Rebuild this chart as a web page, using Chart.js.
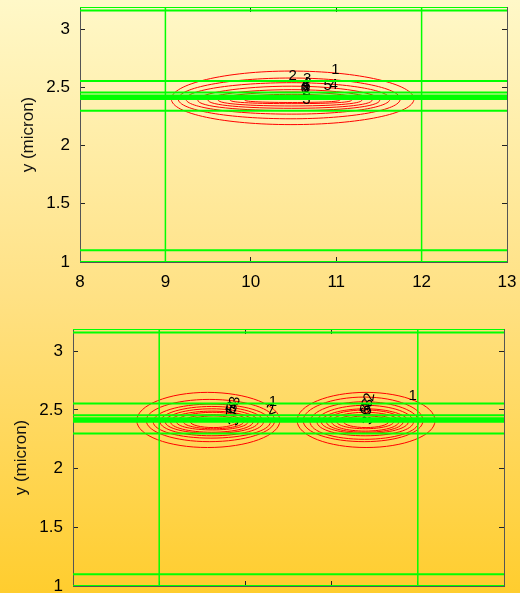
<!DOCTYPE html>
<html>
<head>
<meta charset="utf-8">
<script src="https://cdn.jsdelivr.net/npm/chart.js@4"></script>
<style>
  html, body { margin: 0; padding: 0; width: 520px; height: 593px; overflow: hidden; }
  body {
    position: relative;
    background: linear-gradient(to bottom, #FFF8C8 0%, #FFE184 50%, #FFCD2E 100%);
  }
  canvas { position: absolute; left: 0; }
  #c1 { top: 0; }
  #c2 { top: 300px; }
</style>
</head>
<body>
<canvas id="c1" width="520" height="300"></canvas>
<canvas id="c2" width="520" height="330"></canvas>
<script>
const FONT = '"Liberation Sans", Arial, Helvetica, sans-serif';
const GREEN = '#00ff00';
const RED = '#ff0000';

// axis limits and ticks (x and y in micron)
const X_MIN = 8, X_MAX = 13;
const Y_MIN = 1, Y_MAX = 3.19;
const xTicks = [8, 9, 10, 11, 12, 13];
const yTicks = [1, 1.5, 2, 2.5, 3];

// waveguide layer boundaries
const layerY = [3.19, 3.16, 2.555, 2.455, 2.43, 2.42, 2.41, 2.40, 2.30, 1.10, 1.00];
const layerX = [9, 12];

// single guide: field contours (left/right ends, top/bottom extents)
const singleLeft   = [9.07, 9.15, 9.24, 9.38, 9.50, 9.62, 9.76, 9.93];
const singleRight  = [11.91, 11.75, 11.63, 11.51, 11.42, 11.30, 11.18, 11.04];
const singleCx     = [10.47, 10.47, 10.48, 10.48, 10.48, 10.48, 10.48, 10.49];
const singleTop    = [2.64, 2.58, 2.54, 2.51, 2.48, 2.46, 2.44, 2.42];
const singleBottom = [2.18, 2.23, 2.27, 2.30, 2.32, 2.34, 2.36, 2.37];
const singleEndY   = [2.40, 2.40, 2.40, 2.39, 2.39, 2.39, 2.39, 2.39];

// coupled guides: left lobe
const lobeALeft   = [8.74, 8.85, 8.93, 9.01, 9.07, 9.13, 9.20, 9.28, 9.36];
const lobeARight  = [10.40, 10.34, 10.29, 10.21, 10.15, 10.09, 10.03, 9.98, 9.90];
const lobeACx     = [9.56, 9.58, 9.60, 9.61, 9.61, 9.61, 9.62, 9.63, 9.63];
const lobeATop    = [2.65, 2.59, 2.55, 2.53, 2.51, 2.49, 2.48, 2.46, 2.45];
const lobeABottom = [2.18, 2.23, 2.26, 2.28, 2.30, 2.31, 2.33, 2.34, 2.35];
const lobeAEndY   = [2.41, 2.41, 2.40, 2.40, 2.40, 2.40, 2.40, 2.40, 2.40];

// coupled guides: right lobe
const lobeBLeft   = [10.60, 10.67, 10.75, 10.83, 10.88, 10.94, 11.00, 11.06, 11.14];
const lobeBRight  = [12.20, 12.06, 12.01, 11.95, 11.89, 11.83, 11.78, 11.72, 11.66];
const lobeBCx     = [11.40, 11.38, 11.38, 11.39, 11.39, 11.39, 11.39, 11.39, 11.40];
const lobeBTop    = [2.65, 2.61, 2.57, 2.54, 2.51, 2.50, 2.48, 2.46, 2.45];
const lobeBBottom = [2.18, 2.23, 2.25, 2.28, 2.30, 2.31, 2.32, 2.34, 2.35];
const lobeBEndY   = [2.41, 2.41, 2.40, 2.40, 2.40, 2.40, 2.40, 2.40, 2.40];

// contour level labels
const singleLabelText  = ['1', '2', '3', '5', '4', '4', '5', '6', '7', '8', '3'];
const singleLabelX     = [10.99, 10.49, 10.66, 10.90, 10.97, 10.64, 10.65, 10.63, 10.64, 10.65, 10.65];
const singleLabelY     = [2.65, 2.60, 2.57, 2.51, 2.52, 2.53, 2.51, 2.49, 2.47, 2.45, 2.39];
const singleLabelAngle = [0, 0, 0, 0, 0, 0, 0, 0, 0, 0, 0];

const coupledLabelText  = ['1', '2', '3', '4', '5', '6', '7', '3', '1', '2', '3', '4', '5', '6', '3'];
const coupledLabelX     = [10.32, 10.30, 9.88, 9.86, 9.85, 9.84, 9.85, 9.87, 11.94, 11.44, 11.42, 11.41, 11.40, 11.41, 11.42];
const coupledLabelY     = [2.57, 2.50, 2.58, 2.54, 2.52, 2.50, 2.48, 2.40, 2.62, 2.61, 2.56, 2.53, 2.51, 2.49, 2.41];
const coupledLabelAngle = [0, -20, -80, -80, -80, -80, -80, -80, 0, -80, -80, -80, -80, -80, -80];

Chart.defaults.font.family = FONT;

function layerDatasets() {
  const sets = [];
  layerY.forEach(v => sets.push({
    data: [{ x: X_MIN, y: v }, { x: X_MAX, y: v }],
    borderColor: GREEN, borderWidth: 2
  }));
  layerX.forEach(v => sets.push({
    data: [{ x: v, y: Y_MIN }, { x: v, y: Y_MAX }],
    borderColor: GREEN, borderWidth: 1.5
  }));
  return sets;
}

function contourDatasets(left, right, cx, top, bottom, endY) {
  return left.map((l, i) => ({
    closed: true,
    data: [
      { x: l, y: endY[i] },
      { x: cx[i], y: top[i] },
      { x: right[i], y: endY[i] },
      { x: cx[i], y: bottom[i] }
    ],
    borderColor: RED, borderWidth: 1, tension: 0.55
  }));
}

// draw each contour as a smooth closed curve
const closedLoops = {
  id: 'closedLoops',
  afterDatasetUpdate(chart, args) {
    if (chart.data.datasets[args.index].closed) {
      const line = args.meta.dataset;
      line._loop = true;
      line._fullLoop = true;
    }
  }
};

// contour level numbers, drawn above the contours and below the layer lines
function levelLabels(drawBeforeIndex, text, xs, ys, angles) {
  return {
    id: 'levelLabels',
    beforeDatasetDraw(chart, args) {
      if (args.index !== drawBeforeIndex) return;
      const { ctx } = chart;
      const sx = chart.scales.x, sy = chart.scales.y;
      ctx.save();
      ctx.font = '15px ' + FONT;
      ctx.fillStyle = '#000';
      ctx.textAlign = 'center';
      ctx.textBaseline = 'middle';
      text.forEach((t, i) => {
        ctx.save();
        ctx.translate(sx.getPixelForValue(xs[i]), sy.getPixelForValue(ys[i]));
        ctx.rotate(angles[i] * Math.PI / 180);
        ctx.fillText(t, 0, 0);
        ctx.restore();
      });
      ctx.restore();
    }
  };
}

function buildScales(yWidth, titlePad, xHeight) {
  const tickFont = { size: 17, family: FONT };
  const grid = { drawOnChartArea: false, tickLength: -5, color: '#222', tickWidth: 1 };
  const border = { display: true, color: '#555', width: 1 };
  const setX = s => { s.ticks = xTicks.map(v => ({ value: v })); };
  const setY = s => { s.ticks = yTicks.map(v => ({ value: v })); };
  return {
    x: {
      type: 'linear', position: 'bottom', min: X_MIN, max: X_MAX, bounds: 'data',
      afterBuildTicks: setX,
      ticks: { color: '#000', font: tickFont, padding: 15, maxRotation: 0, autoSkip: false, callback: v => String(v) },
      grid, border,
      afterFit: s => { s.height = xHeight; s.paddingLeft = 0; s.paddingRight = 0; }
    },
    x2: {
      type: 'linear', position: 'top', min: X_MIN, max: X_MAX, bounds: 'data',
      afterBuildTicks: setX,
      ticks: { display: false },
      grid, border,
      afterFit: s => { s.height = 0; s.paddingLeft = 0; s.paddingRight = 0; }
    },
    y: {
      type: 'linear', position: 'left', min: Y_MIN, max: Y_MAX, bounds: 'data',
      afterBuildTicks: setY,
      ticks: { color: '#000', font: tickFont, padding: 15, autoSkip: false, callback: v => String(v) },
      title: { display: true, text: 'y (micron)', color: '#111', font: { size: 17, family: FONT }, padding: { top: titlePad, bottom: 0 } },
      grid, border,
      afterFit: s => { s.width = yWidth; s.paddingTop = 0; s.paddingBottom = 0; }
    },
    y2: {
      type: 'linear', position: 'right', min: Y_MIN, max: Y_MAX, bounds: 'data',
      afterBuildTicks: setY,
      ticks: { display: false },
      grid, border,
      afterFit: s => { s.width = 0; s.paddingTop = 0; s.paddingBottom = 0; }
    }
  };
}

function makeChart(canvasId, contours, labels, layout) {
  const layers = layerDatasets();
  const datasets = layers.concat(contours).map(d => Object.assign({
    pointRadius: 0, pointHoverRadius: 0, fill: false, xAxisID: 'x', yAxisID: 'y'
  }, d));
  return new Chart(document.getElementById(canvasId), {
    type: 'line',
    data: { datasets },
    options: {
      responsive: false,
      animation: false,
      events: [],
      layout: { padding: layout.padding },
      plugins: { legend: { display: false }, tooltip: { enabled: false } },
      scales: buildScales(layout.yWidth, layout.titlePad, layout.xHeight)
    },
    plugins: [closedLoops, levelLabels(layers.length - 1, labels[0], labels[1], labels[2], labels[3])]
  });
}

makeChart('c1',
  contourDatasets(singleLeft, singleRight, singleCx, singleTop, singleBottom, singleEndY),
  [singleLabelText, singleLabelX, singleLabelY, singleLabelAngle],
  { padding: { top: 7, right: 13, left: 0, bottom: 0 }, yWidth: 80, titlePad: 18, xHeight: 38 });

makeChart('c2',
  contourDatasets(lobeALeft, lobeARight, lobeACx, lobeATop, lobeABottom, lobeAEndY)
    .concat(contourDatasets(lobeBLeft, lobeBRight, lobeBCx, lobeBTop, lobeBBottom, lobeBEndY)),
  [coupledLabelText, coupledLabelX, coupledLabelY, coupledLabelAngle],
  { padding: { top: 29, right: 16, left: 0, bottom: 0 }, yWidth: 73, titlePad: 11, xHeight: 44 });
</script>
</body>
</html>
